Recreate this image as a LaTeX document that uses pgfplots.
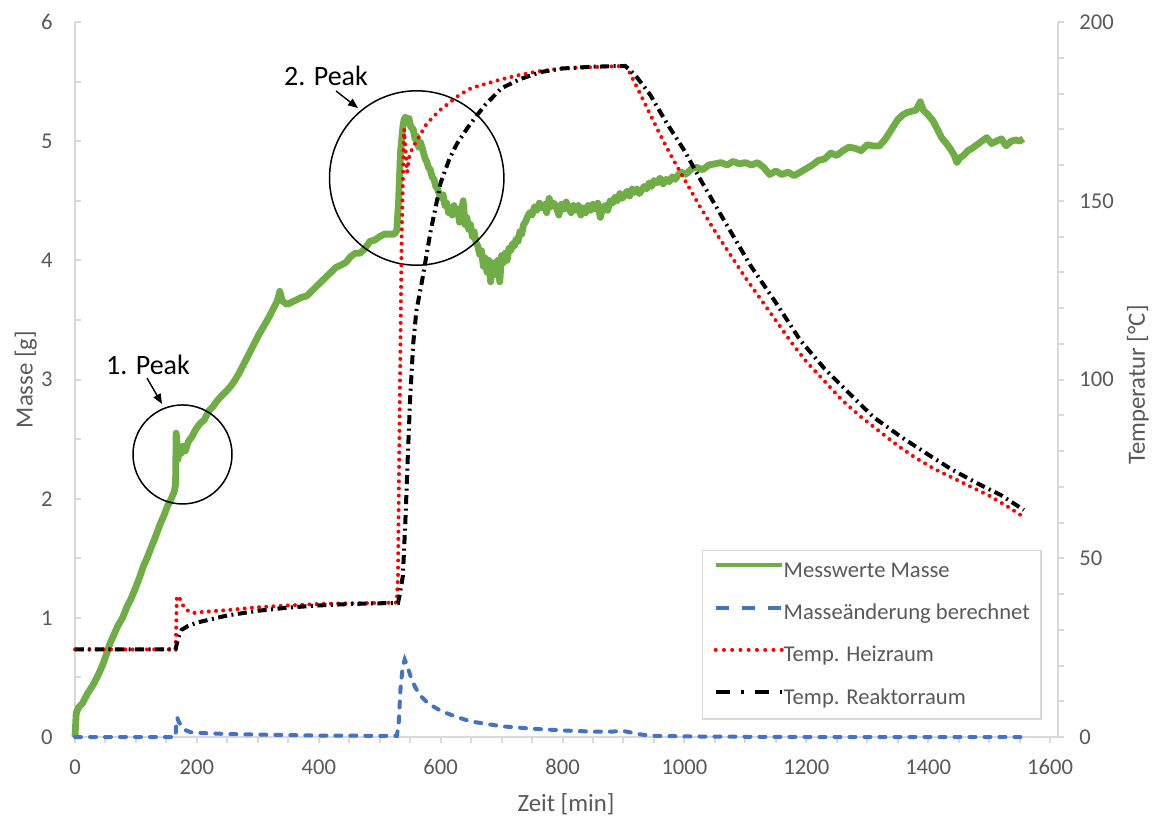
\documentclass[border=0pt]{standalone}
\usepackage{fontspec}
\setmainfont{Carlito}
\usepackage{pgfplots}
\pgfplotsset{compat=1.18}
\usepackage{pgfplotstable}
\usetikzlibrary{arrows.meta}
\definecolor{mgreen}{HTML}{70AD47}
\definecolor{mblue}{HTML}{4472C4}
\definecolor{axgray}{HTML}{D9D9D9}
\definecolor{txtgray}{HTML}{595959}

\pgfplotstableread{
t m
0 0.00
2 0.20
6 0.25
12 0.28
20 0.36
30 0.44
38 0.52
45 0.60
52 0.70
57 0.78
64 0.86
70 0.93
78 1.00
85 1.09
92 1.16
100 1.26
106 1.34
112 1.43
118 1.50
125 1.59
132 1.68
140 1.79
146 1.86
152 1.94
158 2.00
163 2.06
165 2.12
166 2.55
167 2.50
169 2.33
171 2.42
174 2.38
177 2.44
181 2.40
186 2.48
192 2.52
198 2.58
205 2.63
212 2.66
220 2.74
226 2.77
233 2.82
240 2.86
248 2.90
255 2.94
262 2.99
270 3.06
278 3.14
286 3.22
294 3.30
302 3.38
310 3.45
318 3.52
326 3.60
332 3.66
336 3.74
340 3.66
348 3.63
356 3.65
364 3.67
372 3.69
380 3.70
388 3.74
396 3.78
404 3.82
412 3.86
420 3.90
428 3.94
436 3.96
444 3.98
452 4.03
460 4.06
468 4.06
476 4.10
484 4.16
492 4.17
500 4.20
508 4.22
516 4.22
524 4.22
528 4.25
531 4.50
534 4.90
538 5.12
540 5.18
542 5.20
545 5.16
548 5.19
551 5.12
555 5.10
558 5.02
561 5.04
564 4.95
567 4.99
571 4.92
574 4.86
577 4.83
580 4.78
583 4.76
586 4.70
589 4.68
592 4.62
595 4.60
598 4.55
601 4.52
604 4.55
607 4.46
610 4.48
613 4.40
616 4.44
619 4.38
622 4.46
625 4.40
628 4.43
631 4.32
634 4.40
637 4.50
640 4.30
643 4.36
646 4.26
649 4.30
652 4.20
655 4.24
658 4.15
661 4.12
664 4.05
667 4.08
670 3.95
673 4.02
676 3.90
679 4.00
682 3.82
685 3.98
688 3.88
691 3.98
694 4.00
697 3.82
700 4.04
703 3.98
706 4.06
709 4.00
712 4.10
715 4.08
718 4.14
721 4.12
724 4.18
727 4.16
730 4.24
733 4.22
736 4.30
739 4.32
742 4.36
746 4.40
750 4.38
754 4.45
758 4.42
762 4.48
766 4.44
770 4.47
774 4.40
778 4.52
782 4.45
786 4.48
790 4.44
794 4.38
798 4.47
802 4.43
806 4.49
810 4.44
814 4.40
818 4.46
822 4.42
826 4.46
830 4.38
834 4.44
838 4.40
842 4.46
846 4.42
850 4.47
854 4.43
858 4.48
862 4.36
866 4.44
870 4.46
874 4.42
878 4.50
882 4.48
886 4.53
890 4.50
894 4.56
898 4.52
902 4.55
906 4.58
910 4.54
914 4.60
918 4.57
922 4.60
926 4.56
930 4.59
934 4.62
938 4.60
942 4.65
946 4.62
950 4.67
955 4.65
960 4.69
965 4.64
970 4.68
975 4.66
980 4.70
985 4.68
990 4.72
995 4.74
1000 4.72
1004 4.73
1012 4.77
1020 4.78
1030 4.76
1040 4.80
1050 4.81
1060 4.82
1070 4.80
1080 4.83
1090 4.81
1100 4.82
1110 4.80
1120 4.82
1130 4.78
1140 4.72
1150 4.75
1160 4.72
1170 4.74
1180 4.71
1190 4.74
1200 4.77
1210 4.80
1220 4.84
1230 4.85
1240 4.90
1250 4.88
1260 4.92
1270 4.95
1280 4.94
1290 4.92
1300 4.97
1310 4.96
1320 4.96
1330 5.02
1340 5.10
1350 5.18
1358 5.22
1365 5.24
1372 5.25
1380 5.26
1387 5.33
1392 5.26
1400 5.22
1408 5.17
1415 5.10
1422 5.03
1430 4.98
1437 4.93
1443 4.88
1447 4.82
1452 4.86
1458 4.88
1465 4.92
1472 4.94
1480 4.97
1488 5.00
1496 5.03
1504 4.98
1512 5.00
1520 5.02
1528 4.96
1536 5.00
1544 5.01
1550 5.00
1556 5.02
}\masse

\pgfplotstableread{
t d
0 0
165 0
166 0.10
168 0.16
170 0.13
175 0.09
180 0.06
190 0.04
200 0.035
250 0.025
300 0.02
400 0.012
500 0.01
528 0.01
531 0.10
534 0.40
538 0.60
541 0.65
545 0.60
550 0.52
558 0.42
566 0.35
580 0.28
600 0.22
625 0.17
650 0.13
700 0.09
750 0.07
800 0.055
850 0.045
880 0.045
895 0.05
900 0.05
910 0.04
930 0.02
950 0.01
1000 0.005
1100 0.002
1200 0
1557 0
}\dmasse

\pgfplotstableread{
t T
0 24.5
165 24.5
166 30
167 39
170 39.5
175 37.5
180 36
188 35
195 34.7
210 35
250 35.5
300 36.3
350 36.8
400 37.2
450 37.4
500 37.5
528 37.6
530 45
532 80
534 110
536 140
538 155
540 170
542 165
545 158
548 162
552 164
558 166
565 168
575 171
585 173
600 175.5
615 177.5
630 179.5
650 181.5
670 182.5
700 184
730 185.2
760 186.2
800 187
850 187.4
900 187.7
905 187.5
920 182.5
940 175.5
960 168.5
980 162
1000 156
1025 148.5
1050 141.5
1075 135
1100 128.5
1125 122.5
1150 116.5
1175 110.5
1200 105
1230 99.5
1260 94
1290 89.5
1320 85.5
1350 81.5
1380 78
1410 75
1440 72.5
1470 70
1500 67.5
1530 64.5
1557 61.5
}\heiz

\pgfplotstableread{
t T
0 24.5
165 24.5
167 26
170 28
175 30
185 31
200 32
225 33
250 34
300 35.3
350 36.2
400 36.8
450 37.2
500 37.4
530 37.5
533 40
538 45
542 60
546 78
550 95
555 110
560 119
571 129
583 141
600 155
615 162
627 166
645 170.6
660 174
673 176.8
700 181.5
730 184
764 186
800 187
850 187.5
903 187.7
920 185
944 179.6
970 172
1000 164
1026 156
1060 146
1108 132
1150 121.5
1190 111
1230 103
1273 95.7
1310 89.5
1355 84
1400 79
1437 75
1480 71
1519 67.7
1557 63.5
}\reaktor

\pgfplotsset{
  common/.style={
    scale only axis, width=491.5pt, height=357.5pt,
    xmin=0, xmax=1613,
    axis line style={draw=axgray, line width=1pt, -},
    major tick length=3pt, minor tick length=3pt,
    every tick/.style={axgray, line width=1pt},
    /pgf/number format/assume math mode=true,
    /pgf/number format/1000 sep={},
    ticklabel style={font=\fontsize{11.3}{13}\selectfont, text=txtgray, inner sep=0pt},
    no markers,
    clip=false,
  }
}

\begin{document}
\begin{tikzpicture}
\useasboundingbox (-37.5pt,-39.5pt) rectangle (539pt,368.5pt);
\begin{axis}[common,
  ymin=0, ymax=6,
  axis x line=none, axis y line*=left,
  tick align=inside,
  ytick={0,1,...,6}, minor ytick={0.5,1.5,...,5.5},
  yticklabel style={anchor=east, xshift=-11pt},
  ylabel={Masse [g]},
  every axis y label/.style={at={(axis description cs:-0.0432,0.50)}, rotate=90, anchor=base,
    font=\fontsize{12.4}{14}\selectfont, text=txtgray},
]
\addplot[draw=mgreen, line width=3.4pt, line join=round, forget plot] table[x=t,y=m] {\masse};
\draw[black, line width=0.75pt] (axis cs:176.4,2.371) circle[radius=24.75pt];
\draw[black, line width=0.75pt] (axis cs:560.7,4.691) circle[radius=43.6pt];
\node[anchor=base, font=\fontsize{14}{16}\selectfont, inner sep=0pt] at (axis cs:119.8,3.038) {1. Peak};
\node[anchor=base, font=\fontsize{14}{16}\selectfont, inner sep=0pt] at (axis cs:411.9,5.471) {2. Peak};
\draw[black, line width=0.7pt, -{Triangle[length=5pt,width=4pt]}] (axis cs:118.1,3.012) -- (axis cs:142.8,2.795);
\draw[black, line width=0.7pt, -{Triangle[length=5pt,width=4pt]}] (axis cs:428.3,5.421) -- (axis cs:464.4,5.278);
\end{axis}
\begin{axis}[common,
  ymin=0, ymax=200,
  axis x line*=bottom, axis y line*=right,
  tick align=outside,
  xtick={0,200,...,1600}, minor xtick={50,100,...,1600},
  ytick={0,50,...,200}, minor ytick={10,20,...,190},
  xticklabel style={anchor=north, yshift=-8pt},
  yticklabel style={anchor=west, xshift=7.5pt},
  xlabel={Zeit [min]},
  ylabel={Temperatur [°C]},
  every axis x label/.style={at={(axis description cs:0.4995,-0.1035)}, anchor=base,
    font=\fontsize{12.4}{14}\selectfont, text=txtgray},
  every axis y label/.style={at={(axis description cs:1.0885,0.4923)}, rotate=90, anchor=base,
    font=\fontsize{12.4}{14}\selectfont, text=txtgray},
  legend image code/.code={\draw[#1] (0pt,3pt) -- (33pt,3pt);},
  legend style={at={(axis description cs:0.6378,0.0238)}, anchor=south west,
    draw=axgray, line width=0.75pt, fill=white,
    font=\fontsize{11.3}{13}\selectfont, text=txtgray,
    inner xsep=5.5pt, inner ysep=5pt, row sep=10.15pt,
    nodes={inner sep=0pt, text height=8.5pt, text depth=2.5pt},
    /tikz/every even column/.append style={column sep=3.5pt}},
  legend cell align=left,
]
% Masseaenderung (left axis, g) drawn here in the right axis: 6 g correspond to 200 degC
\addplot[draw=mblue, line width=2pt, line cap=round, dash pattern=on 3pt off 4.5pt, forget plot] table[x=t,y expr=\thisrow{d}*100/3] {\dmasse};
\addplot[draw=red, line width=2pt, line cap=round, dash pattern=on 0pt off 3.6pt, forget plot] table[x=t,y=T] {\heiz};
\addplot[draw=black, line width=2pt, dash pattern=on 4.5pt off 2.25pt on 1pt off 2.25pt, forget plot] table[x=t,y=T] {\reaktor};
\addlegendimage{mgreen, line width=2pt}
\addlegendentry{Messwerte Masse}
\addlegendimage{mblue, line width=2pt, dash pattern=on 6.5pt off 6.5pt}
\addlegendentry{Masseänderung berechnet}
\addlegendimage{red, line width=2pt, line cap=round, dash pattern=on 0pt off 4.125pt}
\addlegendentry{Temp. Heizraum}
\addlegendimage{black, line width=2pt, dash pattern=on 7pt off 5.5pt on 1.5pt off 5.5pt}
\addlegendentry{Temp. Reaktorraum}
\end{axis}
\end{tikzpicture}
\end{document}
